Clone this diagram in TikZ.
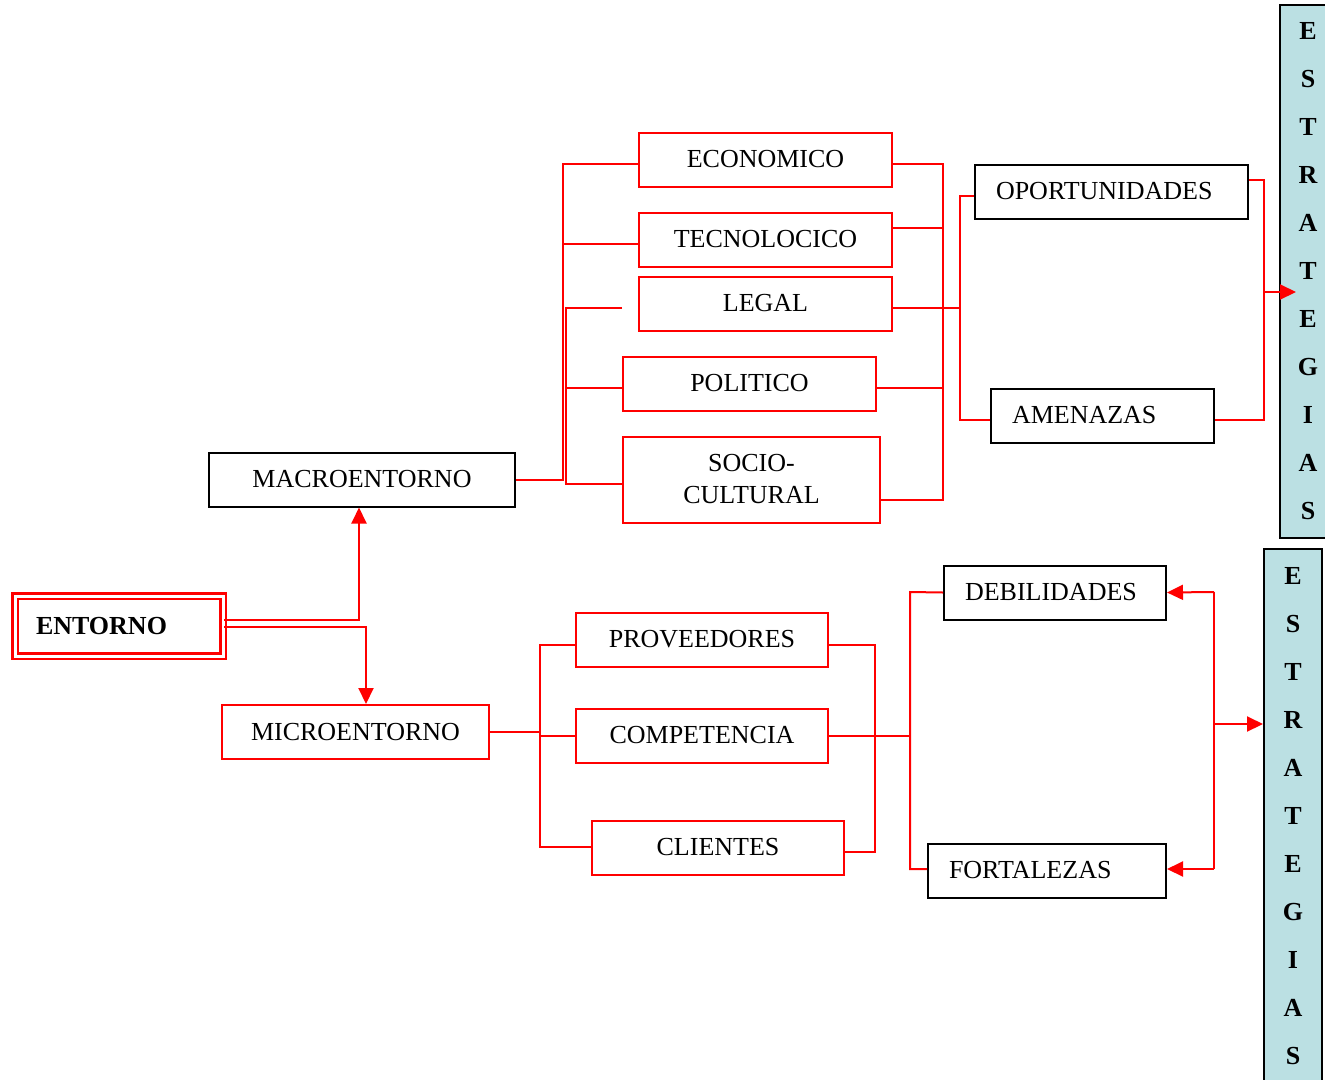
\documentclass[tikz,border=0pt]{standalone}
\usepackage{fontspec}
\setmainfont{Liberation Serif}
\usetikzlibrary{arrows.meta}
\definecolor{estrfill}{RGB}{187,224,227}
\begin{document}
\begin{tikzpicture}[x=1pt,y=-1pt,
  every node/.style={font=\fontsize{26}{32}\selectfont, inner sep=0pt},
  rbox/.style={draw=red, line width=2pt, minimum height=54pt},
  kbox/.style={draw=black, line width=2pt, minimum height=54pt},
  lefttext/.style={align=left, text width=#1, inner xsep=21pt},
  rl/.style={draw=red, line width=2pt},
  arr/.style={-{Triangle[length=16pt,width=15pt]}},
  estr/.style={draw=black, line width=2pt, fill=estrfill, align=center,
    font=\fontsize{26}{48}\selectfont\bfseries}
]
\useasboundingbox (0,0) rectangle (1325,1079);

% macro branch nodes
\node[rbox, minimum width=253pt] (eco) at (765.5,159.5) {ECONOMICO};
\node[rbox, minimum width=253pt] (tec) at (765.5,239.5) {TECNOLOCICO};
\node[rbox, minimum width=253pt] (leg) at (765.5,303.5) {LEGAL};
\node[rbox, minimum width=253pt] (pol) at (749.5,383.5) {POLITICO};
\node[rbox, minimum width=257pt, minimum height=86pt, align=center] (soc) at (751.5,479.5) {SOCIO-\\CULTURAL};
\node[kbox, minimum width=306pt] (macro) at (362,479.5) {MACROENTORNO};
\node[kbox, minimum width=273pt, lefttext=231pt] (opo) at (1111.5,191.5) {OPORTUNIDADES};
\node[kbox, minimum width=223pt, lefttext=181pt] (ame) at (1102.5,415.5) {AMENAZAS};

% entorno
\node[draw=red, line width=2.5pt, double=white, double distance=3pt,
      minimum width=208pt, minimum height=60pt, align=left, text width=166pt,
      inner xsep=21pt, font=\fontsize{26}{32}\selectfont\bfseries] (ent) at (119,626) {ENTORNO};

% micro branch nodes
\node[rbox, minimum width=267pt] (micro) at (355.5,732) {MICROENTORNO};
\node[rbox, minimum width=252pt] (prov) at (702,639.5) {PROVEEDORES};
\node[rbox, minimum width=252pt] (comp) at (702,735.5) {COMPETENCIA};
\node[rbox, minimum width=252pt] (cli) at (718,847.5) {CLIENTES};
\node[kbox, minimum width=222pt, lefttext=180pt] (deb) at (1055,592.5) {DEBILIDADES};
\node[kbox, minimum width=238pt, lefttext=196pt] (fort) at (1047,870.5) {FORTALEZAS};

% estrategias
\node[estr, minimum width=56pt, minimum height=533pt] (estr1) at (1308,271.5)
  {E\\S\\T\\R\\A\\T\\E\\G\\I\\A\\S};
\node[estr, minimum width=58pt, minimum height=536pt] (estr2) at (1293,816.5)
  {E\\S\\T\\R\\A\\T\\E\\G\\I\\A\\S};

% coordinates
\coordinate (mE) at (563,164);
\coordinate (mT) at (563,244);
\coordinate (mL) at (566,308);
\coordinate (mP) at (566,388);
\coordinate (mS) at (566,484);
\coordinate (legEnd) at (622,308);
\coordinate (rE) at (943,164);
\coordinate (rT) at (943,228);
\coordinate (rP) at (943,388);
\coordinate (rS) at (943,500);
\coordinate (oL) at (960,308);
\coordinate (oO) at (960,196);
\coordinate (oA) at (960,420);
\coordinate (eT) at (1264,180);
\coordinate (eB) at (1264,420);
\coordinate (eM) at (1264,292);
\coordinate (eTip) at (1296,292);
\coordinate (em) at (359,620);
\coordinate (ec) at (366,627);
\coordinate (cP) at (540,645);
\coordinate (cC) at (540,847);
\coordinate (pR) at (875,645);
\coordinate (cR) at (875,852);
\coordinate (dD) at (910,592);
\coordinate (dF) at (910,869);
\coordinate (aD) at (1214,592);
\coordinate (aF) at (1214,869);
\coordinate (aM) at (1214,724);

% macro connectors
\draw[rl] (eco.west |- mE) -- (mE) |- (macro.east);
\draw[rl] (tec.west |- mT) -- (mT);
\draw[rl] (legEnd) -- (mL) |- (soc.west |- mS);
\draw[rl] (pol.west |- mP) -- (mP);

\draw[rl] (eco.east |- rE) -- (rE) -- (rS) -- (soc.east |- rS);
\draw[rl] (tec.east |- rT) -- (rT);
\draw[rl] (leg.east |- oL) -- (oL);
\draw[rl] (pol.east |- rP) -- (rP);
\draw[rl] (opo.west |- oO) -- (oO) -- (oA) -- (ame.west |- oA);

\draw[rl] (opo.east |- eT) -- (eT) -- (eB) -- (ame.east |- eB);
\draw[rl, arr] (eM) -- (eTip);

% entorno connectors
\draw[rl, arr] (ent.east |- em) -- (em) -- (macro.south -| em);
\draw[rl, arr] (ent.east |- ec) -- (ec) -- (micro.north -| ec);

% micro connectors
\draw[rl] (micro.east) -- (micro.east -| cP);
\draw[rl] (prov.west |- cP) -- (cP) -- (cC) -- (cli.west |- cC);
\draw[rl] (cP |- comp.west) -- (comp.west);
\draw[rl] (prov.east |- pR) -- (pR) -- (cR) -- (cli.east |- cR);
\draw[rl] (comp.east) -- (comp.east -| dD);
\draw[rl] (deb.west) -- (dD) -- (dF) -- (fort.west |- dF);

\draw[rl] (aD) -- (aF);
\draw[rl, arr] (aD) -- (deb.east);
\draw[rl, arr] (aF) -- (fort.east |- aF);
\draw[rl, arr] (aM) -- (estr2.west |- aM);
\end{tikzpicture}
\end{document}
